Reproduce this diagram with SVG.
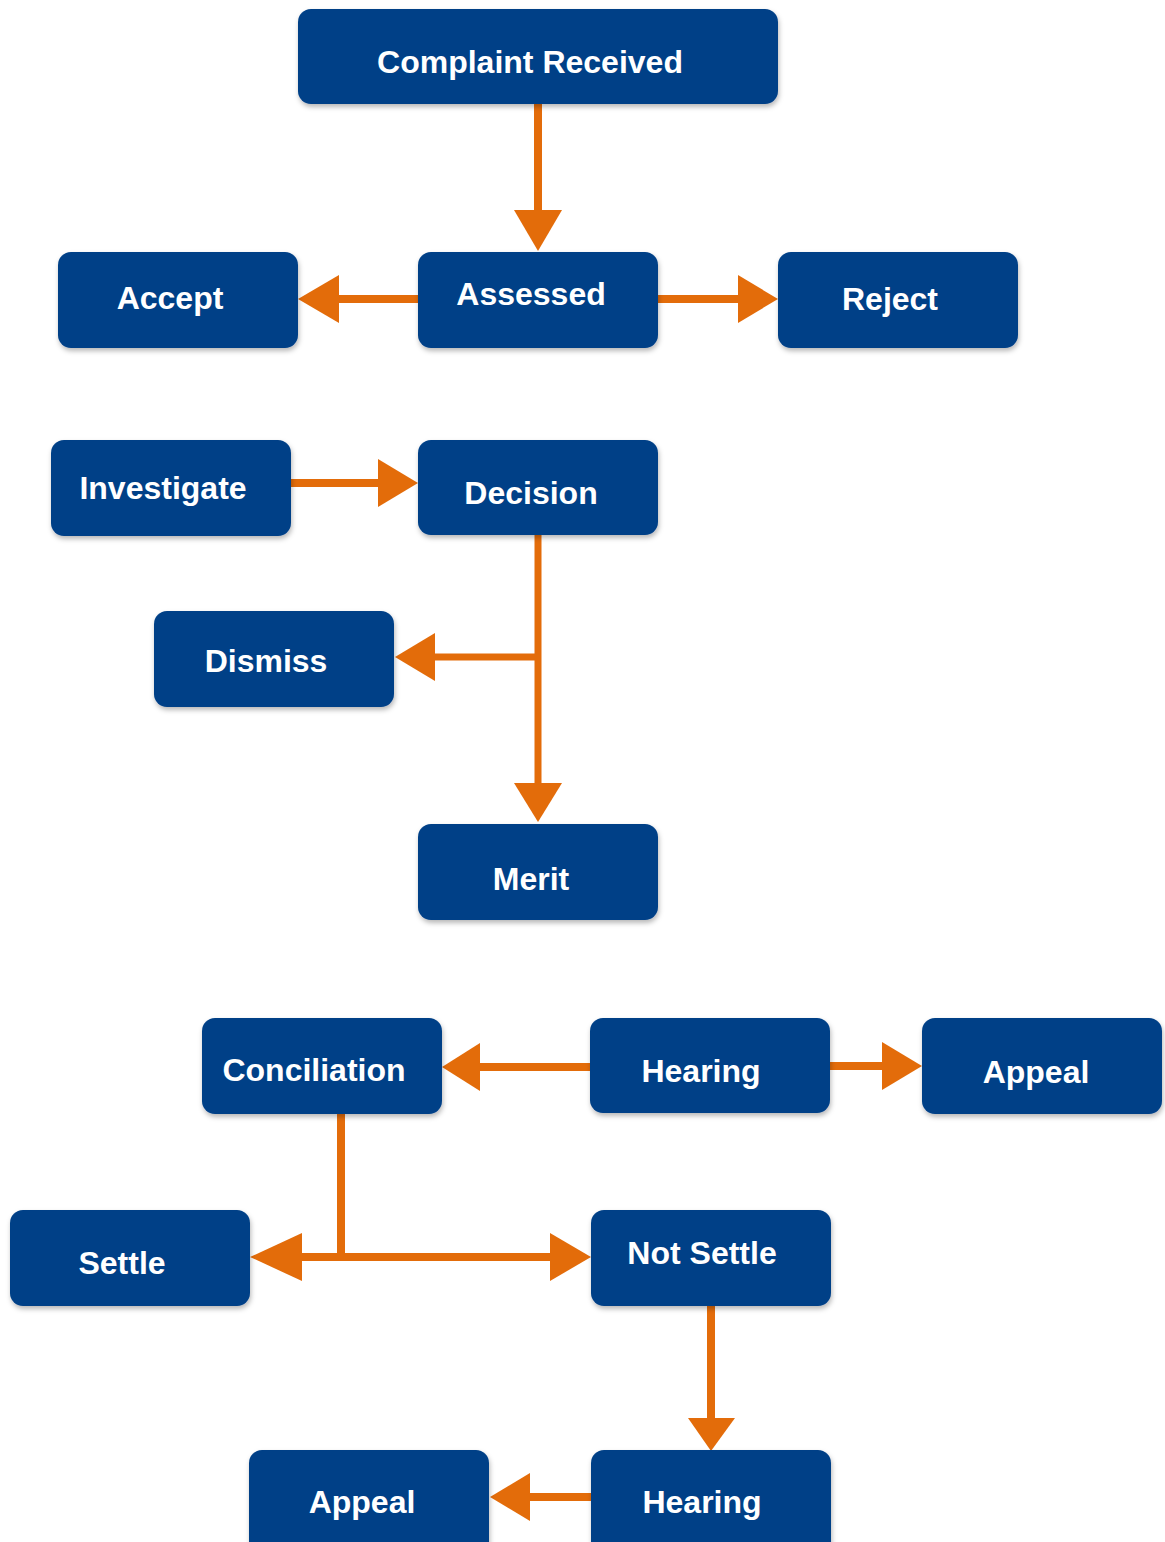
<svg xmlns="http://www.w3.org/2000/svg" width="1165" height="1542" viewBox="0 0 1165 1542">
<defs>
<filter id="sh" x="-10%" y="-10%" width="120%" height="130%">
<feDropShadow dx="1" dy="3" stdDeviation="2.5" flood-color="#000" flood-opacity="0.28"/>
</filter>
<style>
.box{fill:#024187;filter:url(#sh)}
.lbl{fill:#fff;font-family:"Liberation Sans",Arial,sans-serif;font-weight:bold;font-size:32px;text-anchor:middle}
.ln{stroke:#E36C0A;stroke-width:8;fill:none}
.hd{fill:#E36C0A}
</style>
</defs>
<rect width="1165" height="1542" fill="#fff"/>
<g id="connectors">
<line class="ln" x1="538" y1="104" x2="538" y2="212"/>
<polygon class="hd" points="514,210 562,210 538,251"/>
<line class="ln" x1="418" y1="299" x2="336" y2="299"/>
<polygon class="hd" points="339,275 339,323 298,299"/>
<line class="ln" x1="658" y1="299" x2="740" y2="299"/>
<polygon class="hd" points="738,275 738,323 778,299"/>
<line class="ln" x1="291" y1="483" x2="380" y2="483"/>
<polygon class="hd" points="378,459 378,507 418,483"/>
<line class="ln" x1="538" y1="535" x2="538" y2="785" style="stroke-width:7"/>
<polygon class="hd" points="514,783 562,783 538,822"/>
<line class="ln" x1="538" y1="657" x2="433" y2="657" style="stroke-width:7"/>
<polygon class="hd" points="435,633 435,681 395,657"/>
<line class="ln" x1="590" y1="1067" x2="478" y2="1067"/>
<polygon class="hd" points="480,1043 480,1091 442,1067"/>
<line class="ln" x1="830" y1="1066" x2="884" y2="1066"/>
<polygon class="hd" points="882,1042 882,1090 922,1066"/>
<line class="ln" x1="341" y1="1114" x2="341" y2="1257"/>
<line class="ln" x1="300" y1="1257" x2="552" y2="1257"/>
<polygon class="hd" points="302,1233 302,1281 250,1257"/>
<polygon class="hd" points="550,1233 550,1281 591,1257"/>
<line class="ln" x1="711" y1="1306" x2="711" y2="1420"/>
<polygon class="hd" points="688,1418 735,1418 711,1451"/>
<line class="ln" x1="591" y1="1497" x2="528" y2="1497"/>
<polygon class="hd" points="530,1473 530,1521 490,1497"/>
</g>
<g id="n-complaint"><rect class="box" x="298" y="9" width="480" height="95" rx="13"/><text class="lbl" x="530" y="73">Complaint Received</text></g>
<g id="n-accept"><rect class="box" x="58" y="252" width="240" height="96" rx="13"/><text class="lbl" x="170" y="309">Accept</text></g>
<g id="n-assessed"><rect class="box" x="418" y="252" width="240" height="96" rx="13"/><text class="lbl" x="531" y="305">Assessed</text></g>
<g id="n-reject"><rect class="box" x="778" y="252" width="240" height="96" rx="13"/><text class="lbl" x="890" y="310">Reject</text></g>
<g id="n-investigate"><rect class="box" x="51" y="440" width="240" height="96" rx="13"/><text class="lbl" x="163" y="499">Investigate</text></g>
<g id="n-decision"><rect class="box" x="418" y="440" width="240" height="95" rx="13"/><text class="lbl" x="531" y="504">Decision</text></g>
<g id="n-dismiss"><rect class="box" x="154" y="611" width="240" height="96" rx="13"/><text class="lbl" x="266" y="672">Dismiss</text></g>
<g id="n-merit"><rect class="box" x="418" y="824" width="240" height="96" rx="13"/><text class="lbl" x="531" y="890">Merit</text></g>
<g id="n-conciliation"><rect class="box" x="202" y="1018" width="240" height="96" rx="13"/><text class="lbl" x="314" y="1081">Conciliation</text></g>
<g id="n-hearing1"><rect class="box" x="590" y="1018" width="240" height="95" rx="13"/><text class="lbl" x="701" y="1082">Hearing</text></g>
<g id="n-appeal1"><rect class="box" x="922" y="1018" width="240" height="96" rx="13"/><text class="lbl" x="1036" y="1083">Appeal</text></g>
<g id="n-settle"><rect class="box" x="10" y="1210" width="240" height="96" rx="13"/><text class="lbl" x="122" y="1274">Settle</text></g>
<g id="n-notsettle"><rect class="box" x="591" y="1210" width="240" height="96" rx="13"/><text class="lbl" x="702" y="1264">Not Settle</text></g>
<g id="n-hearing2"><rect class="box" x="591" y="1450" width="240" height="110" rx="13"/><text class="lbl" x="702" y="1513">Hearing</text></g>
<g id="n-appeal2"><rect class="box" x="249" y="1450" width="240" height="110" rx="13"/><text class="lbl" x="362" y="1513">Appeal</text></g>
</svg>
